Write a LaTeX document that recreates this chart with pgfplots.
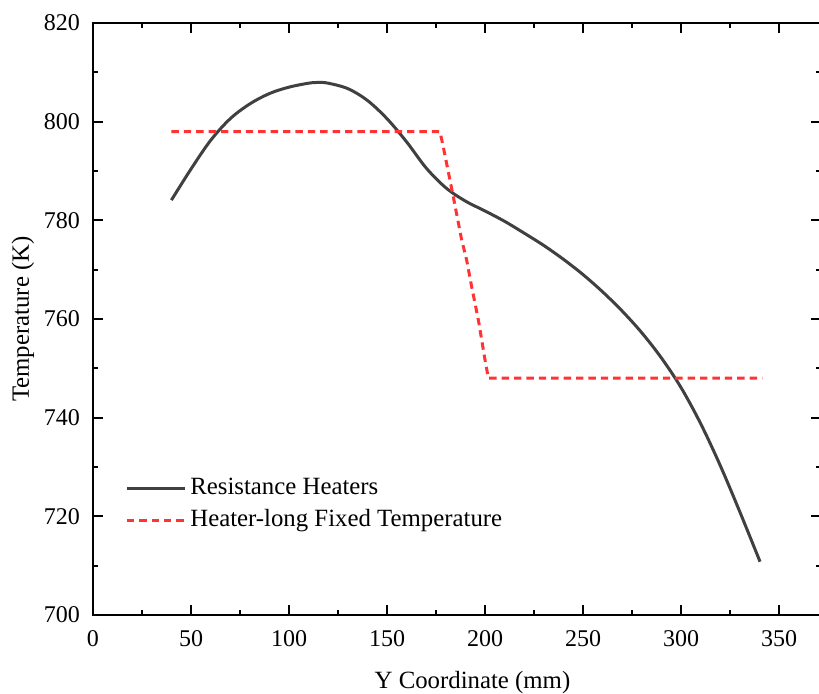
\documentclass[border=0pt]{standalone}
\usepackage{pgfplots}
\pgfplotsset{compat=1.18}
\usepackage{fontspec}
\setmainfont{Liberation Serif}
\definecolor{curvegray}{RGB}{64,64,64}
\definecolor{dashred}{RGB}{255,51,51}
\begin{document}
\begin{tikzpicture}
\begin{axis}[
  name=ax,
  width=364pt, height=296pt, scale only axis,
  xmin=0, xmax=371.4, ymin=700, ymax=820,
  xtick={0,50,...,350}, ytick={700,720,...,820},
  minor x tick num=1, minor y tick num=1,
  tick align=inside,
  major tick length=5pt, minor tick length=2.5pt,
  axis line style={line width=1pt},
  every tick/.style={line width=1pt, black},
  /pgf/number format/assume math mode=true,
  /pgf/number format/1000 sep={},
  tick label style={font=\fontsize{12}{14}\selectfont},
  xticklabel style={yshift=-4pt},
  yticklabel style={xshift=-3pt},
  xlabel={Y Coordinate (mm)},
  ylabel={Temperature (K)},
  label style={font=\fontsize{12.4}{14}\selectfont},
  x label style={at={(axis cs:193.6,700)}, anchor=center, yshift=-34pt},
  y label style={at={(axis description cs:-0.0962,0.5)}, anchor=center},
  legend cell align=left,
  legend image code/.code={\draw[#1] (0pt,0pt) -- (29pt,0pt);},
  legend style={at={(axis cs:16.3,728.3)}, anchor=north west, draw=none, fill=none,
    inner sep=0pt, row sep=3pt,
    font=\fontsize{12.4}{14}\selectfont,
    nodes={inner sep=0.5pt, text height=9pt, text depth=3pt},
    /tikz/every odd column/.append style={column sep=1.5pt}},
]
\addplot[curvegray, line width=1.5pt, smooth, tension=0.55] coordinates {
(40,784.1) (50,790.4) (60,796.2) (70,800.6) (80,803.6) (90,805.7) (100,807.0)
(110,807.8) (115,807.95) (120,807.8) (130,806.7) (140,804.3) (150,800.6)
(160,795.9) (170,790.6) (180,786.6) (190,783.9) (200,781.9) (210,779.8)
(220,777.4) (230,774.9) (240,772.1) (250,769.0) (260,765.5) (270,761.6)
(280,757.2) (290,752.1) (300,746.1) (310,738.8) (320,730.3) (330,720.9)
(340.3,710.8)
};
\addlegendentry{Resistance Heaters}
\addplot[dashred, line width=1.5pt, dash pattern=on 3.7pt off 2.5pt] coordinates {
(40,798) (177,798) (178.7,794.9) (183.8,784.8) (188.1,776) (190.6,772)
(193.2,766.5) (196.6,759.8) (200,751.7) (201.7,748) (341.5,748)
};
\addlegendentry{Heater-long Fixed Temperature}
\end{axis}
\pgfresetboundingbox
\path[use as bounding box] ([shift={(-46.5pt,-39pt)}]ax.south west) rectangle ([shift={(363pt,307.5pt)}]ax.south west);
\end{tikzpicture}
\end{document}
